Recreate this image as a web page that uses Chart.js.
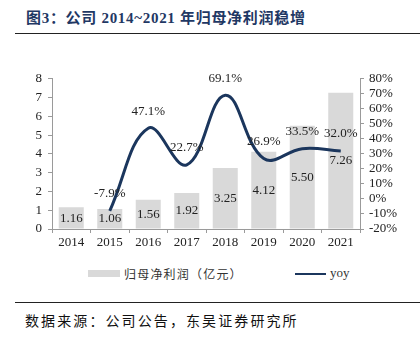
<!DOCTYPE html>
<html>
<head>
<meta charset="utf-8">
<script src="https://cdn.jsdelivr.net/npm/chart.js@4/dist/chart.umd.min.js"></script>
<style>
  body { margin: 0; width: 420px; height: 344px; background: #fff; position: relative; overflow: hidden; font-family: "Liberation Serif", "Times New Roman", "DejaVu Serif", "Noto Sans CJK SC", serif; }
  #title { position: absolute; left: 26px; top: 6px; font-size: 15px; letter-spacing: 0.7px; font-weight: bold; color: #1f3864; white-space: nowrap; }
  .rule { position: absolute; left: 15px; width: 405px; height: 0; border-top: 1.5px solid #222; }
  #wrap { position: absolute; left: 0; top: 65px; width: 420px; height: 190px; }
  #legend { position: absolute; top: 265px; left: 0; width: 420px; height: 18px; font-size: 12px; color: #333; }
  .lg { position: absolute; top: 0; white-space: nowrap; }
  #source { position: absolute; left: 25px; top: 310px; font-size: 14px; letter-spacing: 2.1px; color: #111; font-family: "Noto Sans CJK SC", sans-serif; }
</style>
</head>
<body>
<div id="title">图3：公司 2014~2021 年归母净利润稳增</div>
<div class="rule" style="top:33px"></div>
<div id="wrap"><canvas id="myChart" width="420" height="190"></canvas></div>
<div id="legend">
  <div class="lg" style="left:88px;top:5px;width:32px;height:7px;background:#d9d9d9"></div>
  <div class="lg" style="left:124px;letter-spacing:1.2px;font-family:'Noto Sans CJK SC',sans-serif;">归母净利润（亿元）</div>
  <div class="lg" style="left:295px;top:8px;width:31px;height:0;border-top:2.5px solid #1b365d"></div>
  <div class="lg" style="left:330px;top:0px;font-size:13px;">yoy</div>
</div>
<div class="rule" style="top:302px"></div>
<div id="source">数据来源：公司公告，东吴证券研究所</div>
<script>
const years = ['2014', '2015', '2016', '2017', '2018', '2019', '2020', '2021'];
const profit = [1.16, 1.06, 1.56, 1.92, 3.25, 4.12, 5.50, 7.26];
const yoy = [null, -7.9, 47.1, 22.7, 69.1, 26.9, 33.5, 32.0];
const leftTicks = [0, 1, 2, 3, 4, 5, 6, 7, 8];
const rightTicks = [-20, -10, 0, 10, 20, 30, 40, 50, 60, 70, 80];

const axisColor = '#9a9a9a';
const serif = "'Liberation Serif', 'Times New Roman', 'DejaVu Serif', serif";

const valueLabels = {
  id: 'valueLabels',
  afterDatasetsDraw(chart) {
    const c = chart.ctx;
    c.save();
    c.font = '13px ' + serif;
    c.fillStyle = '#222';
    c.textAlign = 'center';
    c.textBaseline = 'middle';
    const yL = chart.scales.y;
    chart.getDatasetMeta(0).data.forEach((bar, i) => {
      const mid = (yL.getPixelForValue(profit[i]) + yL.getPixelForValue(0)) / 2;
      c.fillText(profit[i].toFixed(2), bar.x, mid);
    });
    chart.getDatasetMeta(1).data.forEach((pt, i) => {
      if (yoy[i] === null) return;
      c.fillText(yoy[i].toFixed(1) + '%', pt.x, pt.y - 17);
    });
    c.restore();
  }
};

new Chart(document.getElementById('myChart'), {
  type: 'bar',
  data: {
    labels: years,
    datasets: [
      {
        label: '归母净利润（亿元）',
        data: profit,
        backgroundColor: '#d9d9d9',
        barPercentage: 1,
        categoryPercentage: 0.65,
        yAxisID: 'y',
        order: 1
      },
      {
        type: 'line',
        label: 'yoy',
        data: yoy,
        borderColor: '#1b365d',
        borderWidth: 3,
        pointRadius: 0,
        tension: 0.4,
        yAxisID: 'y1',
        order: 0
      }
    ]
  },
  plugins: [valueLabels],
  options: {
    responsive: false,
    animation: false,
    layout: { padding: { top: 12, left: 0, right: 0, bottom: 0 } },
    plugins: { legend: { display: false }, tooltip: { enabled: false } },
    scales: {
      x: {
        offset: true,
        grid: { display: true, offset: true, drawOnChartArea: false, drawTicks: true, tickLength: 4, color: axisColor },
        border: { display: true, color: axisColor },
        ticks: { color: '#222', font: { family: serif, size: 13 }, padding: 2, autoSkip: false, maxRotation: 0 },
        afterFit(s) { s.height = 26; }
      },
      y: {
        position: 'left',
        min: 0, max: 8,
        afterBuildTicks(s) { s.ticks = leftTicks.map(v => ({ value: v })); },
        grid: { display: true, drawOnChartArea: false, drawTicks: true, tickLength: 4, color: axisColor },
        border: { display: true, color: axisColor },
        ticks: { color: '#222', font: { family: serif, size: 13 }, padding: 6, autoSkip: false },
        afterFit(s) { s.width = 52; }
      },
      y1: {
        position: 'right',
        min: -20, max: 80,
        afterBuildTicks(s) { s.ticks = rightTicks.map(v => ({ value: v })); },
        grid: { display: true, drawOnChartArea: false, drawTicks: true, tickLength: 4, color: axisColor },
        border: { display: true, color: axisColor },
        ticks: { color: '#222', font: { family: serif, size: 13 }, padding: 5, autoSkip: false, callback: v => v + '%' },
        afterFit(s) { s.width = 60; }
      }
    }
  }
});
</script>
</body>
</html>
